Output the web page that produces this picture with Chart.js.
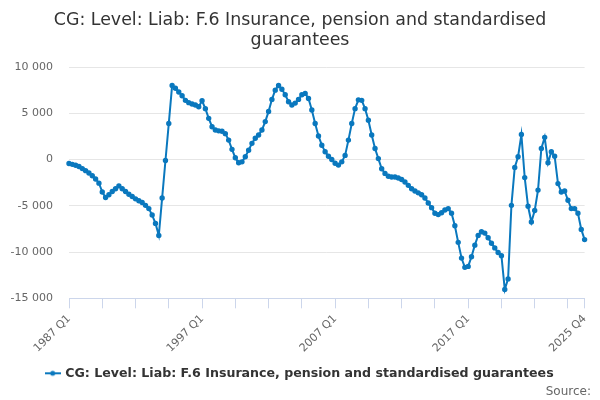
<!DOCTYPE html>
<html>
<head>
<meta charset="utf-8">
<title>CG: Level: Liab: F.6</title>
<script src="https://cdn.jsdelivr.net/npm/chart.js@4/dist/chart.umd.min.js"></script>
<style>
  html, body { margin: 0; padding: 0; background: #fff; }
  #wrap { width: 600px; height: 400px; position: relative; }
</style>
</head>
<body>
<div id="wrap"><canvas id="lineChart"></canvas></div>
<script>
// quarterly categories 1987 Q1 .. 2025 Q4
var firstYear = 1987;
var lastYear = 2025;
var quarters = [];
for (var y = firstYear; y <= lastYear; y++) {
  for (var q = 1; q <= 4; q++) quarters.push(y + ' Q' + q);
}

// labels that are actually printed under the axis
var tickLabels = ['1987 Q1', '1997 Q1', '2007 Q1', '2017 Q1', '2025 Q4'];

var seriesName = 'CG: Level: Liab: F.6 Insurance, pension and standardised guarantees';

// values (GBP million)
var liabF6 = [
  -430, -520, -620, -760, -980, -1200, -1450, -1750, -2100, -2550,
  -3500, -4100, -3800, -3450, -3150, -2850, -3150, -3450, -3750, -4000,
  -4250, -4450, -4650, -4950, -5300, -6000, -6900, -8200, -4150, -100,
  3900, 8000, 7700, 7300, 6900, 6400, 6150, 6000, 5900, 5700,
  6350, 5500, 4450, 3550, 3200, 3100, 3050, 2800, 2100, 1100,
  200, -350, -250, 300, 1000, 1750, 2300, 2650, 3200, 4100,
  5200, 6500, 7500, 8000, 7600, 7000, 6250, 5900, 6100, 6500,
  7000, 7150, 6600, 5350, 3900, 2550, 1550, 850, 350, 0,
  -400, -600, -250, 450, 2100, 3900, 5500, 6450, 6400, 5500,
  4250, 2650, 1200, 100, -1000, -1500, -1800, -1880, -1880, -2000,
  -2150, -2430, -2790, -3150, -3400, -3600, -3800, -4150, -4700, -5200,
  -5800, -5950, -5750, -5450, -5300, -5800, -7150, -8950, -10650, -11650,
  -11550, -10500, -9250, -8200, -7800, -7950, -8450, -9050, -9550, -10050,
  -10400, -14050, -12900, -4950, -850, 300, 2700, -1950, -5050, -6750,
  -5500, -3300, 1200, 2400, -350, 850, 350, -2600, -3500, -3400,
  -4400, -5300, -5300, -5800, -7550, -8650
];

var yMin = -15000, yMax = 10000, yStep = 5000;
var lineColor = '#0a78be';

function fmt(v) {
  var s = Math.abs(v).toString().replace(/\B(?=(\d{3})+(?!\d))/g, ' ');
  return (v < 0 ? '-' : '') + s;
}

// legend marker: short line with a dot
function legendMarker() {
  var c = document.createElement('canvas');
  c.width = 16; c.height = 8;
  var g = c.getContext('2d');
  g.strokeStyle = lineColor; g.lineWidth = 2;
  g.beginPath(); g.moveTo(0, 4); g.lineTo(16, 4); g.stroke();
  g.fillStyle = lineColor;
  g.beginPath(); g.arc(8, 4, 2.5, 0, Math.PI * 2); g.fill();
  return c;
}

var ctx = document.getElementById('lineChart');
var myChart = new Chart(ctx, {
  type: 'line',
  data: {
    labels: quarters,
    datasets: [{
      label: seriesName,
      data: liabF6,
      borderColor: lineColor,
      backgroundColor: lineColor,
      borderWidth: 2,
      pointRadius: 1.7,
      pointHoverRadius: 3,
      tension: 0,
      fill: false
    }]
  },
  options: {
    responsive: true,
    maintainAspectRatio: false,
    animation: false,
    layout: { padding: { left: 9, right: 9, top: 4, bottom: 1 } },
    plugins: {
      title: {
        display: true,
        text: ['CG: Level: Liab: F.6 Insurance, pension and standardised', 'guarantees'],
        color: '#333333',
        font: { family: 'DejaVu Sans', size: 17.4, weight: 'normal', lineHeight: 1.15 },
        padding: { top: 6, bottom: 17 }
      },
      subtitle: {
        display: true,
        position: 'bottom',
        align: 'end',
        text: 'Source:',
        color: '#666666',
        font: { family: 'DejaVu Sans', size: 12 },
        padding: { top: -5, bottom: 0 }
      },
      legend: {
        position: 'bottom',
        labels: {
          color: '#333333',
          font: { family: 'DejaVu Sans', size: 12.6, weight: 'bold' },
          usePointStyle: true,
          padding: 1,
          generateLabels: function(chart) {
            var l = Chart.defaults.plugins.legend.labels.generateLabels(chart);
            l.forEach(function(it) { it.pointStyle = legendMarker(); });
            return l;
          }
        }
      },
      tooltip: { enabled: false }
    },
    scales: {
      x: {
        afterFit: function(scale) {
          scale.height += 7;
          scale.paddingRight = 15.4;
        },
        grid: {
          drawOnChartArea: false,
          drawTicks: true,
          tickLength: 10,
          color: '#ccd6eb'
        },
        border: { display: true, color: '#ccd6eb' },
        ticks: {
          autoSkip: false,
          minRotation: 45,
          maxRotation: 45,
          color: '#666666',
          font: { family: 'DejaVu Sans', size: 11 },
          padding: 4,
          callback: function(value, index) {
            var lab = this.getLabelForValue(value);
            if (tickLabels.indexOf(lab) >= 0) return lab;
            if (index % 10 === 0 || index === quarters.length - 1) return '';
            return null;
          }
        }
      },
      y: {
        min: yMin,
        max: yMax,
        afterFit: function(scale) { scale.width = 60; },
        grid: { color: '#e6e6e6', drawTicks: false },
        border: { display: false },
        ticks: {
          stepSize: yStep,
          color: '#666666',
          padding: 16,
          font: { family: 'DejaVu Sans', size: 11 },
          callback: function(v) { return fmt(v); }
        }
      }
    }
  }
});
</script>
</body>
</html>
